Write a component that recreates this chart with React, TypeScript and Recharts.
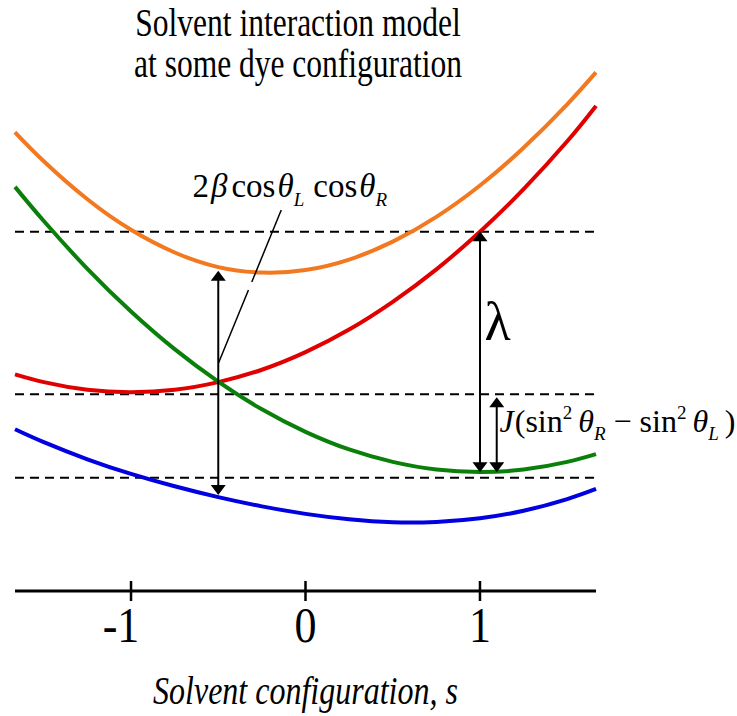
import React from "react";
import { LineChart, Line, XAxis, YAxis, ReferenceLine, ReferenceDot } from "recharts";

// solvent coordinate s, sampled across the plotted range
const S_VALUES = [-1.665, -1.5, -1.25, -1, -0.75, -0.5, -0.25, 0, 0.25, 0.5, 0.75, 1, 1.25, 1.5, 1.665];

// energies (same units as s)
const UPPER_ADIABAT = [2.629, 2.463, 2.245, 2.07, 1.94, 1.856, 1.825, 1.839, 1.899, 2.002, 2.144, 2.324, 2.54, 2.789, 2.972];
const LEFT_DIABAT = [1.241, 1.197, 1.153, 1.139, 1.153, 1.197, 1.268, 1.369, 1.498, 1.657, 1.843, 2.059, 2.303, 2.577, 2.78];
const RIGHT_DIABAT = [2.316, 2.12, 1.846, 1.602, 1.386, 1.2, 1.041, 0.912, 0.811, 0.74, 0.696, 0.682, 0.696, 0.74, 0.784];
const LOWER_ADIABAT = [0.927, 0.853, 0.755, 0.671, 0.6, 0.538, 0.485, 0.442, 0.411, 0.394, 0.396, 0.417, 0.46, 0.527, 0.585];

const X_TICKS = [-1, 0, 1];
const LEVELS = [2.059, 1.127, 0.649];

// double arrows: s position, top energy, bottom energy
const ARROW_S = [-0.5, 1, 1.096];
const ARROW_TOP = [1.835, 2.062, 1.11];
const ARROW_BOTTOM = [0.55, 0.68, 0.68];

const SERIF = "'Liberation Serif', 'Times New Roman', serif";

const data = S_VALUES.map((s, i) => ({
  s,
  upper: UPPER_ADIABAT[i],
  left: LEFT_DIABAT[i],
  right: RIGHT_DIABAT[i],
  lower: LOWER_ADIABAT[i],
}));

function DoubleArrow(p: any) {
  const { x1, y1, y2 } = p;
  const top = Math.min(y1, y2);
  const bot = Math.max(y1, y2);
  const hw = 7.5;
  const hl = 10;
  return (
    <g>
      <line x1={x1} x2={x1} y1={top + hl - 1} y2={bot - hl + 1} stroke="#000" strokeWidth={2} />
      <polygon points={`${x1},${top} ${x1 - hw},${top + hl} ${x1 + hw},${top + hl}`} fill="#000" />
      <polygon points={`${x1},${bot} ${x1 - hw},${bot - hl} ${x1 + hw},${bot - hl}`} fill="#000" />
    </g>
  );
}

function AxisTick(props: any) {
  const { x, y, payload } = props;
  const shift = payload.value < 0 ? -10 : 0;
  return (
    <g>
      <line x1={x} x2={x} y1={y - 10} y2={y + 10} stroke="#000" strokeWidth={2.5} />
      <g transform={`translate(${x + shift},${y + 51}) scale(1,1.17)`}>
        <text x={0} y={0} textAnchor="middle" fontSize={44} fontFamily={SERIF} fill="#000">
          {String(payload.value)}
        </text>
      </g>
    </g>
  );
}

function AxisTitle(props: any) {
  const vb = props.viewBox || { x: 15, y: 591, width: 581, height: 125 };
  const cx = vb.x + vb.width / 2;
  return (
    <g transform={`translate(${cx},${vb.y + 113}) scale(1,1.28)`}>
      <text x={0} y={0} textAnchor="middle" fontSize={32} fontStyle="italic" fontFamily={SERIF} fill="#000">
        Solvent configuration, s
      </text>
    </g>
  );
}

function CouplingLabel({ cx, cy }: any) {
  return (
    <text x={cx} y={cy} fontFamily={SERIF} fontSize={33} fill="#000">
      <tspan>2</tspan>
      <tspan fontStyle="italic" dx={2}>β</tspan>
      <tspan dx={4}>cos</tspan>
      <tspan fontStyle="italic" dx={2}>θ</tspan>
      <tspan fontStyle="italic" fontSize={19} dy={9}>L</tspan>
      <tspan dy={-9} dx={9}>cos</tspan>
      <tspan fontStyle="italic" dx={2}>θ</tspan>
      <tspan fontStyle="italic" fontSize={19} dy={9}>R</tspan>
    </text>
  );
}

function LambdaLabel({ cx, cy }: any) {
  return (
    <text x={cx} y={cy} fontFamily={SERIF} fontSize={54} fill="#000">
      λ
    </text>
  );
}

function JLabel({ cx, cy }: any) {
  return (
    <text x={cx} y={cy} fontFamily={SERIF} fontSize={32} fill="#000">
      <tspan fontStyle="italic">J</tspan>
      <tspan dx={1}>(sin</tspan>
      <tspan fontSize={19} dy={-13}>2</tspan>
      <tspan dy={13} dx={6} fontStyle="italic">θ</tspan>
      <tspan fontSize={19} fontStyle="italic" dy={8}>R</tspan>
      <tspan dy={-8} dx={8}>−</tspan>
      <tspan dx={8}>sin</tspan>
      <tspan fontSize={19} dy={-13}>2</tspan>
      <tspan dy={13} dx={6} fontStyle="italic">θ</tspan>
      <tspan fontSize={19} fontStyle="italic" dy={8}>L</tspan>
      <tspan dy={-8} dx={6}>)</tspan>
    </text>
  );
}

export default function App() {
  return (
    <div style={{ position: "absolute", left: 0, top: 0, width: 737, height: 716, background: "#fff" }}>
      <svg width={737} height={100} style={{ position: "absolute", left: 0, top: 0 }}>
        <g transform="translate(298,36) scale(1,1.25)">
          <text x={0} y={0} textAnchor="middle" fontSize={31.5} fontFamily={SERIF} fill="#000">
            Solvent interaction model
          </text>
        </g>
        <g transform="translate(298,77) scale(1,1.25)">
          <text x={0} y={0} textAnchor="middle" fontSize={31.5} fontFamily={SERIF} fill="#000">
            at some dye configuration
          </text>
        </g>
      </svg>
      <LineChart
        width={737}
        height={716}
        data={data}
        margin={{ top: 67.5, right: 141, bottom: 0, left: 15 }}
        style={{ position: "absolute", left: 0, top: 0 }}
      >
        <XAxis
          dataKey="s"
          type="number"
          domain={[-1.665, 1.665]}
          ticks={X_TICKS}
          interval={0}
          height={125}
          tickSize={0}
          tickMargin={0}
          tickLine={false}
          axisLine={{ stroke: "#000", strokeWidth: 3 }}
          tick={<AxisTick />}
          label={(props: any) => <AxisTitle {...props} />}
        />
        <YAxis hide type="number" domain={[0, 3]} />

        {LEVELS.map((y) => (
          <ReferenceLine key={y} y={y} stroke="#000" strokeWidth={2} strokeDasharray="9 6" />
        ))}

        <Line type="natural" dataKey="upper" stroke="#F27920" strokeWidth={4} dot={false} isAnimationActive={false} />
        <Line type="natural" dataKey="left" stroke="#E00000" strokeWidth={4} dot={false} isAnimationActive={false} />
        <Line type="natural" dataKey="right" stroke="#0A800A" strokeWidth={4} dot={false} isAnimationActive={false} />
        <Line type="natural" dataKey="lower" stroke="#0000E0" strokeWidth={4} dot={false} isAnimationActive={false} />

        {ARROW_S.map((s, i) => (
          <ReferenceLine
            key={`arrow-${i}`}
            segment={[{ x: s, y: ARROW_TOP[i] }, { x: s, y: ARROW_BOTTOM[i] }]}
            shape={(p: any) => <DoubleArrow {...p} />}
          />
        ))}

        {/* leader line for the coupling label (broken where it passes the upper curve) */}
        <ReferenceLine segment={[{ x: -0.4986, y: 1.307 }, { x: -0.327, y: 1.725 }]} stroke="#000" strokeWidth={1.5} />
        <ReferenceLine segment={[{ x: -0.308, y: 1.771 }, { x: -0.139, y: 2.183 }]} stroke="#000" strokeWidth={1.5} />

        <ReferenceDot x={-0.6476} y={2.258} r={0} shape={(p: any) => <CouplingLabel {...p} />} />
        <ReferenceDot x={1.026} y={1.438} r={0} shape={(p: any) => <LambdaLabel {...p} />} />
        <ReferenceDot x={1.112} y={0.911} r={0} shape={(p: any) => <JLabel {...p} />} />
      </LineChart>
    </div>
  );
}
